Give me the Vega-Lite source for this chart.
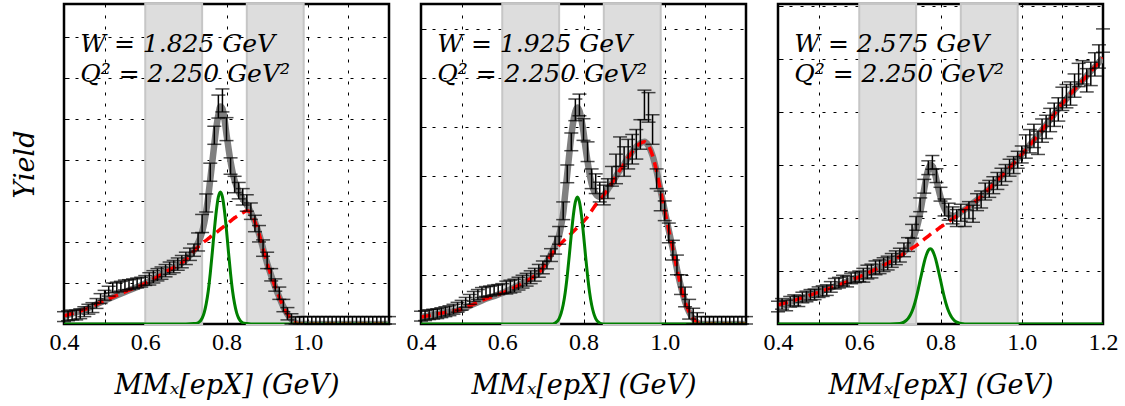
{
"$schema": "https://vega.github.io/schema/vega-lite/v6.json",
"padding": {"left": 10, "top": 1, "right": 5, "bottom": 4},
"bounds": "flush",
"spacing": 32,
"config": {
  "view": {"stroke": "black", "strokeWidth": 2.5},
  "axis": {"grid": true, "gridColor": "black", "gridDash": [3, 8], "gridWidth": 1, "domain": false, "tickColor": "black", "tickSize": -5, "tickWidth": 1, "labelFont": "Liberation Serif", "labelFontSize": 24, "labelColor": "black", "titleFont": "DejaVu Serif", "titleFontStyle": "italic", "titleFontWeight": "normal", "titleFontSize": 27, "titleColor": "black", "zindex": 1}
},
"datasets": {
  "bands": [{"x": 0.6, "x2": 0.74}, {"x": 0.85, "x2": 0.99}],
  "labels": [
    {"p": 1, "x": 0.44, "y": 6.63, "t": "W = 1.825 GeV"},
    {"p": 1, "x": 0.44, "y": 5.9, "t": "Q² = 2.250 GeV²"},
    {"p": 2, "x": 0.44, "y": 5.53, "t": "W = 1.925 GeV"},
    {"p": 2, "x": 0.44, "y": 4.92, "t": "Q² = 2.250 GeV²"},
    {"p": 3, "x": 0.44, "y": 5.13, "t": "W = 2.575 GeV"},
    {"p": 3, "x": 0.44, "y": 4.57, "t": "Q² = 2.250 GeV²"}
  ],
  "curves": [
    {"p":1,"x":0.40,"t":0.20,"b":0.20,"s":0},
    {"p":1,"x":0.45,"t":0.35,"b":0.35,"s":0},
    {"p":1,"x":0.50,"t":0.57,"b":0.57,"s":0},
    {"p":1,"x":0.55,"t":0.78,"b":0.78,"s":0},
    {"p":1,"x":0.60,"t":0.99,"b":0.99,"s":0},
    {"p":1,"x":0.65,"t":1.27,"b":1.27,"s":0},
    {"p":1,"x":0.70,"t":1.57,"b":1.57,"s":0},
    {"p":1,"x":0.72,"t":1.80,"b":1.78,"s":0.01},
    {"p":1,"x":0.73,"t":1.98,"b":1.88,"s":0.03},
    {"p":1,"x":0.74,"t":2.24,"b":1.97,"s":0.14},
    {"p":1,"x":0.745,"t":2.45,"b":2.01,"s":0.27},
    {"p":1,"x":0.75,"t":2.75,"b":2.04,"s":0.49},
    {"p":1,"x":0.755,"t":3.10,"b":2.08,"s":0.80},
    {"p":1,"x":0.76,"t":3.52,"b":2.12,"s":1.23},
    {"p":1,"x":0.765,"t":3.95,"b":2.16,"s":1.74},
    {"p":1,"x":0.77,"t":4.38,"b":2.19,"s":2.28},
    {"p":1,"x":0.775,"t":4.80,"b":2.23,"s":2.76},
    {"p":1,"x":0.78,"t":5.10,"b":2.27,"s":3.10},
    {"p":1,"x":0.785,"t":5.30,"b":2.31,"s":3.22},
    {"p":1,"x":0.79,"t":5.25,"b":2.35,"s":3.10},
    {"p":1,"x":0.795,"t":5.00,"b":2.39,"s":2.76},
    {"p":1,"x":0.80,"t":4.62,"b":2.43,"s":2.28},
    {"p":1,"x":0.805,"t":4.28,"b":2.47,"s":1.74},
    {"p":1,"x":0.81,"t":3.96,"b":2.51,"s":1.23},
    {"p":1,"x":0.815,"t":3.70,"b":2.55,"s":0.80},
    {"p":1,"x":0.82,"t":3.50,"b":2.59,"s":0.49},
    {"p":1,"x":0.825,"t":3.35,"b":2.62,"s":0.27},
    {"p":1,"x":0.83,"t":3.22,"b":2.65,"s":0.14},
    {"p":1,"x":0.84,"t":3.05,"b":2.71,"s":0.03},
    {"p":1,"x":0.85,"t":2.90,"b":2.76,"s":0.01},
    {"p":1,"x":0.86,"t":2.72,"b":2.72,"s":0},
    {"p":1,"x":0.87,"t":2.49,"b":2.49,"s":0},
    {"p":1,"x":0.88,"t":2.20,"b":2.20,"s":0},
    {"p":1,"x":0.89,"t":1.84,"b":1.84,"s":0},
    {"p":1,"x":0.90,"t":1.48,"b":1.48,"s":0},
    {"p":1,"x":0.91,"t":1.18,"b":1.18,"s":0},
    {"p":1,"x":0.92,"t":0.90,"b":0.90,"s":0},
    {"p":1,"x":0.93,"t":0.65,"b":0.65,"s":0},
    {"p":1,"x":0.94,"t":0.42,"b":0.42,"s":0},
    {"p":1,"x":0.95,"t":0.24,"b":0.24,"s":0},
    {"p":1,"x":0.96,"t":0.11,"b":0.11,"s":0},
    {"p":1,"x":0.97,"t":0.03,"b":0.03,"s":0},
    {"p":1,"x":0.98,"t":0,"b":0,"s":0},
    {"p":1,"x":1.20,"t":0,"b":0,"s":0},

    {"p":2,"x":0.40,"t":0.14,"b":0.14,"s":0},
    {"p":2,"x":0.45,"t":0.22,"b":0.22,"s":0},
    {"p":2,"x":0.50,"t":0.30,"b":0.30,"s":0},
    {"p":2,"x":0.55,"t":0.48,"b":0.48,"s":0},
    {"p":2,"x":0.60,"t":0.63,"b":0.63,"s":0},
    {"p":2,"x":0.65,"t":0.83,"b":0.83,"s":0},
    {"p":2,"x":0.70,"t":1.14,"b":1.14,"s":0},
    {"p":2,"x":0.72,"t":1.42,"b":1.40,"s":0},
    {"p":2,"x":0.73,"t":1.60,"b":1.50,"s":0.02},
    {"p":2,"x":0.74,"t":1.80,"b":1.60,"s":0.11},
    {"p":2,"x":0.745,"t":2.00,"b":1.64,"s":0.22},
    {"p":2,"x":0.75,"t":2.25,"b":1.68,"s":0.39},
    {"p":2,"x":0.755,"t":2.65,"b":1.72,"s":0.64},
    {"p":2,"x":0.76,"t":3.05,"b":1.76,"s":0.98},
    {"p":2,"x":0.765,"t":3.45,"b":1.80,"s":1.39},
    {"p":2,"x":0.77,"t":3.82,"b":1.84,"s":1.82},
    {"p":2,"x":0.775,"t":4.12,"b":1.88,"s":2.21},
    {"p":2,"x":0.78,"t":4.32,"b":1.92,"s":2.48},
    {"p":2,"x":0.785,"t":4.40,"b":1.96,"s":2.58},
    {"p":2,"x":0.79,"t":4.33,"b":2.00,"s":2.48},
    {"p":2,"x":0.795,"t":4.15,"b":2.04,"s":2.21},
    {"p":2,"x":0.80,"t":3.90,"b":2.08,"s":1.82},
    {"p":2,"x":0.805,"t":3.58,"b":2.13,"s":1.39},
    {"p":2,"x":0.81,"t":3.30,"b":2.18,"s":0.98},
    {"p":2,"x":0.815,"t":3.05,"b":2.24,"s":0.64},
    {"p":2,"x":0.82,"t":2.85,"b":2.30,"s":0.39},
    {"p":2,"x":0.825,"t":2.72,"b":2.36,"s":0.22},
    {"p":2,"x":0.83,"t":2.64,"b":2.42,"s":0.11},
    {"p":2,"x":0.84,"t":2.58,"b":2.52,"s":0.02},
    {"p":2,"x":0.85,"t":2.62,"b":2.62,"s":0},
    {"p":2,"x":0.86,"t":2.74,"b":2.74,"s":0},
    {"p":2,"x":0.87,"t":2.86,"b":2.86,"s":0},
    {"p":2,"x":0.88,"t":3.00,"b":3.00,"s":0},
    {"p":2,"x":0.89,"t":3.13,"b":3.13,"s":0},
    {"p":2,"x":0.90,"t":3.25,"b":3.25,"s":0},
    {"p":2,"x":0.91,"t":3.38,"b":3.38,"s":0},
    {"p":2,"x":0.92,"t":3.50,"b":3.50,"s":0},
    {"p":2,"x":0.93,"t":3.60,"b":3.60,"s":0},
    {"p":2,"x":0.94,"t":3.67,"b":3.67,"s":0},
    {"p":2,"x":0.95,"t":3.70,"b":3.70,"s":0},
    {"p":2,"x":0.96,"t":3.62,"b":3.62,"s":0},
    {"p":2,"x":0.97,"t":3.42,"b":3.42,"s":0},
    {"p":2,"x":0.98,"t":3.10,"b":3.10,"s":0},
    {"p":2,"x":0.99,"t":2.70,"b":2.70,"s":0},
    {"p":2,"x":1.00,"t":2.30,"b":2.30,"s":0},
    {"p":2,"x":1.01,"t":1.90,"b":1.90,"s":0},
    {"p":2,"x":1.02,"t":1.52,"b":1.52,"s":0},
    {"p":2,"x":1.03,"t":1.12,"b":1.12,"s":0},
    {"p":2,"x":1.04,"t":0.75,"b":0.75,"s":0},
    {"p":2,"x":1.05,"t":0.45,"b":0.45,"s":0},
    {"p":2,"x":1.06,"t":0.24,"b":0.24,"s":0},
    {"p":2,"x":1.07,"t":0.11,"b":0.11,"s":0},
    {"p":2,"x":1.08,"t":0.03,"b":0.03,"s":0},
    {"p":2,"x":1.09,"t":0,"b":0,"s":0},
    {"p":2,"x":1.20,"t":0,"b":0,"s":0},

    {"p":3,"x":0.40,"t":0.36,"b":0.36,"s":0},
    {"p":3,"x":0.45,"t":0.47,"b":0.47,"s":0},
    {"p":3,"x":0.50,"t":0.60,"b":0.60,"s":0},
    {"p":3,"x":0.55,"t":0.74,"b":0.74,"s":0},
    {"p":3,"x":0.60,"t":0.89,"b":0.89,"s":0},
    {"p":3,"x":0.65,"t":1.07,"b":1.07,"s":0},
    {"p":3,"x":0.70,"t":1.30,"b":1.28,"s":0.01},
    {"p":3,"x":0.71,"t":1.36,"b":1.33,"s":0.035},
    {"p":3,"x":0.72,"t":1.44,"b":1.38,"s":0.10},
    {"p":3,"x":0.725,"t":1.50,"b":1.405,"s":0.16},
    {"p":3,"x":0.73,"t":1.58,"b":1.43,"s":0.24},
    {"p":3,"x":0.735,"t":1.67,"b":1.455,"s":0.35},
    {"p":3,"x":0.74,"t":1.78,"b":1.48,"s":0.49},
    {"p":3,"x":0.745,"t":1.92,"b":1.51,"s":0.65},
    {"p":3,"x":0.75,"t":2.10,"b":1.54,"s":0.83},
    {"p":3,"x":0.755,"t":2.32,"b":1.57,"s":1.00},
    {"p":3,"x":0.76,"t":2.55,"b":1.60,"s":1.17},
    {"p":3,"x":0.765,"t":2.76,"b":1.63,"s":1.30},
    {"p":3,"x":0.77,"t":2.92,"b":1.66,"s":1.39},
    {"p":3,"x":0.775,"t":3.00,"b":1.69,"s":1.42},
    {"p":3,"x":0.78,"t":2.98,"b":1.72,"s":1.39},
    {"p":3,"x":0.785,"t":2.88,"b":1.745,"s":1.30},
    {"p":3,"x":0.79,"t":2.72,"b":1.77,"s":1.17},
    {"p":3,"x":0.795,"t":2.55,"b":1.80,"s":1.00},
    {"p":3,"x":0.80,"t":2.40,"b":1.83,"s":0.83},
    {"p":3,"x":0.805,"t":2.27,"b":1.855,"s":0.65},
    {"p":3,"x":0.81,"t":2.18,"b":1.88,"s":0.49},
    {"p":3,"x":0.815,"t":2.11,"b":1.905,"s":0.35},
    {"p":3,"x":0.82,"t":2.07,"b":1.93,"s":0.24},
    {"p":3,"x":0.825,"t":2.05,"b":1.96,"s":0.16},
    {"p":3,"x":0.83,"t":2.04,"b":1.99,"s":0.10},
    {"p":3,"x":0.835,"t":2.04,"b":2.015,"s":0.06},
    {"p":3,"x":0.84,"t":2.06,"b":2.04,"s":0.035},
    {"p":3,"x":0.845,"t":2.08,"b":2.07,"s":0.02},
    {"p":3,"x":0.85,"t":2.11,"b":2.10,"s":0.01},
    {"p":3,"x":0.86,"t":2.16,"b":2.16,"s":0},
    {"p":3,"x":0.87,"t":2.22,"b":2.22,"s":0},
    {"p":3,"x":0.88,"t":2.28,"b":2.28,"s":0},
    {"p":3,"x":0.89,"t":2.34,"b":2.34,"s":0},
    {"p":3,"x":0.90,"t":2.41,"b":2.41,"s":0},
    {"p":3,"x":0.95,"t":2.79,"b":2.79,"s":0},
    {"p":3,"x":1.00,"t":3.20,"b":3.20,"s":0},
    {"p":3,"x":1.05,"t":3.66,"b":3.66,"s":0},
    {"p":3,"x":1.10,"t":4.16,"b":4.16,"s":0},
    {"p":3,"x":1.15,"t":4.60,"b":4.60,"s":0},
    {"p":3,"x":1.20,"t":5.02,"b":5.02,"s":0}
  ],
  "pts": [
    {"p":1,"x":0.40,"y":0.18,"e":0.12},{"p":1,"x":0.41,"y":0.20,"e":0.12},{"p":1,"x":0.42,"y":0.22,"e":0.12},{"p":1,"x":0.43,"y":0.22,"e":0.12},
    {"p":1,"x":0.44,"y":0.25,"e":0.12},{"p":1,"x":0.45,"y":0.30,"e":0.12},{"p":1,"x":0.46,"y":0.36,"e":0.12},{"p":1,"x":0.47,"y":0.40,"e":0.12},
    {"p":1,"x":0.48,"y":0.50,"e":0.12},{"p":1,"x":0.49,"y":0.62,"e":0.12},{"p":1,"x":0.50,"y":0.70,"e":0.12},{"p":1,"x":0.51,"y":0.80,"e":0.12},
    {"p":1,"x":0.52,"y":0.88,"e":0.12},{"p":1,"x":0.53,"y":0.90,"e":0.12},{"p":1,"x":0.54,"y":0.92,"e":0.12},{"p":1,"x":0.55,"y":0.95,"e":0.12},
    {"p":1,"x":0.56,"y":0.96,"e":0.12},{"p":1,"x":0.57,"y":0.98,"e":0.12},{"p":1,"x":0.58,"y":1.00,"e":0.12},{"p":1,"x":0.59,"y":1.02,"e":0.12},
    {"p":1,"x":0.60,"y":1.06,"e":0.12},{"p":1,"x":0.61,"y":1.10,"e":0.15},{"p":1,"x":0.62,"y":1.15,"e":0.15},{"p":1,"x":0.63,"y":1.20,"e":0.15},
    {"p":1,"x":0.64,"y":1.24,"e":0.15},{"p":1,"x":0.65,"y":1.30,"e":0.15},{"p":1,"x":0.66,"y":1.36,"e":0.15},{"p":1,"x":0.67,"y":1.40,"e":0.15},
    {"p":1,"x":0.68,"y":1.46,"e":0.15},{"p":1,"x":0.69,"y":1.52,"e":0.15},{"p":1,"x":0.70,"y":1.60,"e":0.15},{"p":1,"x":0.71,"y":1.70,"e":0.15},
    {"p":1,"x":0.72,"y":1.80,"e":0.15},{"p":1,"x":0.73,"y":2.00,"e":0.22},{"p":1,"x":0.74,"y":2.45,"e":0.22},{"p":1,"x":0.75,"y":2.95,"e":0.22},
    {"p":1,"x":0.76,"y":3.70,"e":0.22},{"p":1,"x":0.77,"y":4.60,"e":0.22},{"p":1,"x":0.78,"y":5.30,"e":0.28},{"p":1,"x":0.79,"y":5.45,"e":0.28},
    {"p":1,"x":0.80,"y":4.75,"e":0.28},{"p":1,"x":0.81,"y":3.85,"e":0.2},{"p":1,"x":0.82,"y":3.40,"e":0.2},{"p":1,"x":0.83,"y":3.25,"e":0.2},
    {"p":1,"x":0.84,"y":3.10,"e":0.2},{"p":1,"x":0.85,"y":2.95,"e":0.2},{"p":1,"x":0.86,"y":2.75,"e":0.2},{"p":1,"x":0.87,"y":2.45,"e":0.2},
    {"p":1,"x":0.88,"y":2.20,"e":0.2},{"p":1,"x":0.89,"y":1.85,"e":0.2},{"p":1,"x":0.90,"y":1.55,"e":0.2},{"p":1,"x":0.91,"y":1.20,"e":0.15},
    {"p":1,"x":0.92,"y":0.95,"e":0.15},{"p":1,"x":0.93,"y":0.75,"e":0.15},{"p":1,"x":0.94,"y":0.45,"e":0.15},{"p":1,"x":0.95,"y":0.25,"e":0.15},
    {"p":1,"x":0.96,"y":0.10,"e":0.15},{"p":1,"x":0.97,"y":0.02,"e":0.15},{"p":1,"x":0.98,"y":0,"e":0.18},{"p":1,"x":0.99,"y":0,"e":0.18},
    {"p":1,"x":1.00,"y":0,"e":0.18},{"p":1,"x":1.01,"y":0,"e":0.18},{"p":1,"x":1.02,"y":0,"e":0.18},{"p":1,"x":1.03,"y":0,"e":0.18},
    {"p":1,"x":1.04,"y":0,"e":0.18},{"p":1,"x":1.05,"y":0,"e":0.18},{"p":1,"x":1.06,"y":0,"e":0.18},{"p":1,"x":1.07,"y":0,"e":0.18},
    {"p":1,"x":1.08,"y":0,"e":0.18},{"p":1,"x":1.09,"y":0,"e":0.18},{"p":1,"x":1.10,"y":0,"e":0.18},{"p":1,"x":1.11,"y":0,"e":0.18},
    {"p":1,"x":1.12,"y":0,"e":0.18},{"p":1,"x":1.13,"y":0,"e":0.18},{"p":1,"x":1.14,"y":0,"e":0.18},{"p":1,"x":1.15,"y":0,"e":0.18},
    {"p":1,"x":1.16,"y":0,"e":0.18},{"p":1,"x":1.17,"y":0,"e":0.18},{"p":1,"x":1.18,"y":0,"e":0.18},{"p":1,"x":1.19,"y":0,"e":0.18},
    {"p":1,"x":1.20,"y":0,"e":0.18},

    {"p":2,"x":0.40,"y":0.16,"e":0.1},{"p":2,"x":0.41,"y":0.17,"e":0.1},{"p":2,"x":0.42,"y":0.19,"e":0.1},{"p":2,"x":0.43,"y":0.20,"e":0.1},
    {"p":2,"x":0.44,"y":0.21,"e":0.1},{"p":2,"x":0.45,"y":0.23,"e":0.1},{"p":2,"x":0.46,"y":0.25,"e":0.1},{"p":2,"x":0.47,"y":0.27,"e":0.1},
    {"p":2,"x":0.48,"y":0.30,"e":0.1},{"p":2,"x":0.49,"y":0.34,"e":0.1},{"p":2,"x":0.50,"y":0.38,"e":0.1},{"p":2,"x":0.51,"y":0.44,"e":0.1},
    {"p":2,"x":0.52,"y":0.50,"e":0.1},{"p":2,"x":0.53,"y":0.56,"e":0.1},{"p":2,"x":0.54,"y":0.60,"e":0.1},{"p":2,"x":0.55,"y":0.64,"e":0.1},
    {"p":2,"x":0.56,"y":0.66,"e":0.1},{"p":2,"x":0.57,"y":0.67,"e":0.1},{"p":2,"x":0.58,"y":0.69,"e":0.1},{"p":2,"x":0.59,"y":0.70,"e":0.1},
    {"p":2,"x":0.60,"y":0.72,"e":0.1},{"p":2,"x":0.61,"y":0.74,"e":0.13},{"p":2,"x":0.62,"y":0.76,"e":0.13},{"p":2,"x":0.63,"y":0.78,"e":0.13},
    {"p":2,"x":0.64,"y":0.82,"e":0.13},{"p":2,"x":0.65,"y":0.86,"e":0.13},{"p":2,"x":0.66,"y":0.90,"e":0.13},{"p":2,"x":0.67,"y":0.95,"e":0.13},
    {"p":2,"x":0.68,"y":1.00,"e":0.13},{"p":2,"x":0.69,"y":1.08,"e":0.13},{"p":2,"x":0.70,"y":1.15,"e":0.13},{"p":2,"x":0.71,"y":1.25,"e":0.13},
    {"p":2,"x":0.72,"y":1.40,"e":0.13},{"p":2,"x":0.73,"y":1.60,"e":0.18},{"p":2,"x":0.74,"y":1.80,"e":0.18},{"p":2,"x":0.75,"y":2.30,"e":0.18},
    {"p":2,"x":0.76,"y":3.05,"e":0.18},{"p":2,"x":0.77,"y":3.70,"e":0.18},{"p":2,"x":0.78,"y":4.35,"e":0.22},{"p":2,"x":0.79,"y":4.45,"e":0.22},
    {"p":2,"x":0.80,"y":3.95,"e":0.22},{"p":2,"x":0.81,"y":3.50,"e":0.2},{"p":2,"x":0.82,"y":2.95,"e":0.2},{"p":2,"x":0.83,"y":2.85,"e":0.2},
    {"p":2,"x":0.84,"y":2.68,"e":0.2},{"p":2,"x":0.85,"y":2.62,"e":0.2},{"p":2,"x":0.86,"y":2.75,"e":0.2},{"p":2,"x":0.87,"y":3.00,"e":0.2},
    {"p":2,"x":0.88,"y":3.15,"e":0.3},{"p":2,"x":0.89,"y":3.50,"e":0.3},{"p":2,"x":0.90,"y":3.30,"e":0.3},{"p":2,"x":0.91,"y":3.45,"e":0.3},
    {"p":2,"x":0.92,"y":3.55,"e":0.3},{"p":2,"x":0.93,"y":3.65,"e":0.3},{"p":2,"x":0.94,"y":3.85,"e":0.3},{"p":2,"x":0.95,"y":4.45,"e":0.3},
    {"p":2,"x":0.96,"y":4.40,"e":0.3},{"p":2,"x":0.97,"y":3.95,"e":0.3},{"p":2,"x":0.98,"y":2.95,"e":0.2},{"p":2,"x":0.99,"y":2.50,"e":0.2},
    {"p":2,"x":1.00,"y":2.30,"e":0.2},{"p":2,"x":1.01,"y":1.85,"e":0.2},{"p":2,"x":1.02,"y":1.50,"e":0.2},{"p":2,"x":1.03,"y":1.20,"e":0.2},
    {"p":2,"x":1.04,"y":0.80,"e":0.2},{"p":2,"x":1.05,"y":0.55,"e":0.2},{"p":2,"x":1.06,"y":0.30,"e":0.2},{"p":2,"x":1.07,"y":0.12,"e":0.2},
    {"p":2,"x":1.08,"y":0.03,"e":0.2},{"p":2,"x":1.09,"y":0,"e":0.15},{"p":2,"x":1.10,"y":0,"e":0.15},{"p":2,"x":1.11,"y":0,"e":0.15},
    {"p":2,"x":1.12,"y":0,"e":0.15},{"p":2,"x":1.13,"y":0,"e":0.15},{"p":2,"x":1.14,"y":0,"e":0.15},{"p":2,"x":1.15,"y":0,"e":0.15},
    {"p":2,"x":1.16,"y":0,"e":0.15},{"p":2,"x":1.17,"y":0,"e":0.15},{"p":2,"x":1.18,"y":0,"e":0.15},{"p":2,"x":1.19,"y":0,"e":0.15},
    {"p":2,"x":1.20,"y":0,"e":0.15},

    {"p":3,"x":0.40,"y":0.33,"e":0.1},{"p":3,"x":0.41,"y":0.38,"e":0.1},{"p":3,"x":0.42,"y":0.35,"e":0.1},{"p":3,"x":0.43,"y":0.42,"e":0.1},
    {"p":3,"x":0.44,"y":0.45,"e":0.1},{"p":3,"x":0.45,"y":0.43,"e":0.1},{"p":3,"x":0.46,"y":0.50,"e":0.1},{"p":3,"x":0.47,"y":0.52,"e":0.1},
    {"p":3,"x":0.48,"y":0.55,"e":0.1},{"p":3,"x":0.49,"y":0.56,"e":0.1},{"p":3,"x":0.50,"y":0.60,"e":0.1},{"p":3,"x":0.51,"y":0.62,"e":0.1},
    {"p":3,"x":0.52,"y":0.64,"e":0.1},{"p":3,"x":0.53,"y":0.70,"e":0.1},{"p":3,"x":0.54,"y":0.76,"e":0.1},{"p":3,"x":0.55,"y":0.78,"e":0.1},
    {"p":3,"x":0.56,"y":0.82,"e":0.1},{"p":3,"x":0.57,"y":0.80,"e":0.1},{"p":3,"x":0.58,"y":0.86,"e":0.1},{"p":3,"x":0.59,"y":0.88,"e":0.1},
    {"p":3,"x":0.60,"y":0.90,"e":0.1},{"p":3,"x":0.61,"y":0.92,"e":0.13},{"p":3,"x":0.62,"y":0.98,"e":0.13},{"p":3,"x":0.63,"y":1.00,"e":0.13},
    {"p":3,"x":0.64,"y":1.06,"e":0.13},{"p":3,"x":0.65,"y":1.08,"e":0.13},{"p":3,"x":0.66,"y":1.12,"e":0.13},{"p":3,"x":0.67,"y":1.15,"e":0.13},
    {"p":3,"x":0.68,"y":1.20,"e":0.13},{"p":3,"x":0.69,"y":1.25,"e":0.13},{"p":3,"x":0.70,"y":1.30,"e":0.13},{"p":3,"x":0.71,"y":1.40,"e":0.13},
    {"p":3,"x":0.72,"y":1.50,"e":0.13},{"p":3,"x":0.73,"y":1.75,"e":0.13},{"p":3,"x":0.74,"y":1.90,"e":0.13},{"p":3,"x":0.75,"y":2.25,"e":0.13},
    {"p":3,"x":0.76,"y":2.60,"e":0.13},{"p":3,"x":0.77,"y":2.95,"e":0.13},{"p":3,"x":0.78,"y":3.05,"e":0.13},{"p":3,"x":0.79,"y":2.80,"e":0.13},
    {"p":3,"x":0.80,"y":2.45,"e":0.13},{"p":3,"x":0.81,"y":2.20,"e":0.16},{"p":3,"x":0.82,"y":2.12,"e":0.16},{"p":3,"x":0.83,"y":2.05,"e":0.16},
    {"p":3,"x":0.84,"y":2.00,"e":0.16},{"p":3,"x":0.85,"y":2.10,"e":0.16},{"p":3,"x":0.86,"y":2.00,"e":0.16},{"p":3,"x":0.87,"y":2.15,"e":0.16},
    {"p":3,"x":0.88,"y":2.08,"e":0.16},{"p":3,"x":0.89,"y":2.30,"e":0.16},{"p":3,"x":0.90,"y":2.35,"e":0.16},{"p":3,"x":0.91,"y":2.50,"e":0.16},
    {"p":3,"x":0.92,"y":2.55,"e":0.16},{"p":3,"x":0.93,"y":2.62,"e":0.16},{"p":3,"x":0.94,"y":2.70,"e":0.16},{"p":3,"x":0.95,"y":2.78,"e":0.16},
    {"p":3,"x":0.96,"y":2.85,"e":0.16},{"p":3,"x":0.97,"y":2.95,"e":0.16},{"p":3,"x":0.98,"y":3.00,"e":0.16},{"p":3,"x":0.99,"y":3.10,"e":0.16},
    {"p":3,"x":1.00,"y":3.20,"e":0.16},{"p":3,"x":1.01,"y":3.35,"e":0.22},{"p":3,"x":1.02,"y":3.45,"e":0.22},{"p":3,"x":1.03,"y":3.55,"e":0.22},
    {"p":3,"x":1.04,"y":3.42,"e":0.22},{"p":3,"x":1.05,"y":3.65,"e":0.22},{"p":3,"x":1.06,"y":3.72,"e":0.22},{"p":3,"x":1.07,"y":3.85,"e":0.22},
    {"p":3,"x":1.08,"y":3.95,"e":0.22},{"p":3,"x":1.09,"y":4.05,"e":0.22},{"p":3,"x":1.10,"y":4.25,"e":0.22},{"p":3,"x":1.11,"y":4.30,"e":0.22},
    {"p":3,"x":1.12,"y":4.35,"e":0.22},{"p":3,"x":1.13,"y":4.50,"e":0.22},{"p":3,"x":1.14,"y":4.70,"e":0.22},{"p":3,"x":1.15,"y":4.75,"e":0.22},
    {"p":3,"x":1.16,"y":4.60,"e":0.22},{"p":3,"x":1.17,"y":4.72,"e":0.22},{"p":3,"x":1.18,"y":4.90,"e":0.22},{"p":3,"x":1.19,"y":5.05,"e":0.22},
    {"p":3,"x":1.20,"y":5.35,"e":0.22}
  ]
},
"hconcat": [
  {
    "width": 325, "height": 320,
    "layer": [
      {"data": {"name": "bands"},
       "mark": {"type": "rect", "fill": "#dddddd", "stroke": "#c6c6c6", "strokeWidth": 2},
       "encoding": {
         "x": {"field": "x", "type": "quantitative", "scale": {"domain": [0.4, 1.2], "nice": false, "zero": false}, "title": "MMₓ[epX] (GeV)",
               "axis": {"values": [0.4, 0.5, 0.6, 0.7, 0.8, 0.9, 1.0, 1.1, 1.2], "labelExpr": "datum.value < 1.05 && round(datum.value*10) % 2 == 0 ? format(datum.value, '.1f') : ''", "labelFlush": false, "labelOverlap": false, "labelPadding": 11, "titlePadding": 18}},
         "x2": {"field": "x2"}
       }},
      {"data": {"name": "curves"},
       "transform": [{"filter": "datum.p == 1"}, {"fold": ["t", "b", "s"], "as": ["c", "y"]}],
       "encoding": {
         "x": {"field": "x", "type": "quantitative", "scale": {"domain": [0.4, 1.2], "nice": false, "zero": false}, "title": "MMₓ[epX] (GeV)",
               "axis": {"values": [0.4, 0.5, 0.6, 0.7, 0.8, 0.9, 1.0, 1.1, 1.2], "labelExpr": "datum.value < 1.05 && round(datum.value*10) % 2 == 0 ? format(datum.value, '.1f') : ''", "labelFlush": false, "labelOverlap": false, "labelPadding": 11, "titlePadding": 18}},
         "y": {"field": "y", "type": "quantitative", "scale": {"domain": [0, 7.8], "nice": false, "clamp": true}, "title": "Yield",
               "axis": {"values": [0, 1, 2, 3, 4, 5, 6, 7], "labels": false, "titlePadding": 24}}
       },
       "layer": [
         {"transform": [{"filter": "datum.c == 't'"}], "mark": {"type": "line", "color": "#808080", "strokeWidth": 6.5, "interpolate": "monotone", "clip": true}, "encoding": {}},
         {"transform": [{"filter": "datum.c == 'b'"}], "mark": {"type": "line", "color": "#ff0000", "strokeWidth": 3.5, "strokeDash": [10, 6], "interpolate": "monotone", "clip": true}, "encoding": {}},
         {"transform": [{"filter": "datum.c == 's'"}], "mark": {"type": "line", "color": "#008000", "strokeWidth": 3, "interpolate": "monotone", "clip": true}, "encoding": {}}
       ]},
      {"data": {"name": "pts"},
       "transform": [{"filter": "datum.p == 1"}],
       "mark": {"type": "errorbar", "color": "black", "thickness": 1.5, "ticks": {"size": 14}},
       "encoding": {
         "x": {"field": "x", "type": "quantitative", "scale": {"domain": [0.4, 1.2], "nice": false, "zero": false}, "title": "MMₓ[epX] (GeV)",
               "axis": {"values": [0.4, 0.5, 0.6, 0.7, 0.8, 0.9, 1.0, 1.1, 1.2], "labelExpr": "datum.value < 1.05 && round(datum.value*10) % 2 == 0 ? format(datum.value, '.1f') : ''", "labelFlush": false, "labelOverlap": false, "labelPadding": 11, "titlePadding": 18}},
         "y": {"field": "y", "type": "quantitative", "scale": {"domain": [0, 7.8], "nice": false, "clamp": true}, "title": "Yield",
               "axis": {"values": [0, 1, 2, 3, 4, 5, 6, 7], "labels": false, "titlePadding": 24}},
         "yError": {"field": "e"}
       }},
      {"data": {"name": "labels"},
       "transform": [{"filter": "datum.p == 1"}],
       "mark": {"type": "text", "align": "left", "baseline": "alphabetic", "font": "DejaVu Serif", "fontStyle": "italic", "fontSize": 25, "color": "black"},
       "encoding": {
         "x": {"field": "x", "type": "quantitative", "scale": {"domain": [0.4, 1.2], "nice": false, "zero": false}, "title": "MMₓ[epX] (GeV)",
               "axis": {"values": [0.4, 0.5, 0.6, 0.7, 0.8, 0.9, 1.0, 1.1, 1.2], "labelExpr": "datum.value < 1.05 && round(datum.value*10) % 2 == 0 ? format(datum.value, '.1f') : ''", "labelFlush": false, "labelOverlap": false, "labelPadding": 11, "titlePadding": 18}},
         "y": {"field": "y", "type": "quantitative", "scale": {"domain": [0, 7.8], "nice": false, "clamp": true}, "title": "Yield",
               "axis": {"values": [0, 1, 2, 3, 4, 5, 6, 7], "labels": false, "titlePadding": 24}},
         "text": {"field": "t"}
       }}
    ]
  },
  {
    "width": 325, "height": 320,
    "layer": [
      {"data": {"name": "bands"},
       "mark": {"type": "rect", "fill": "#dddddd", "stroke": "#c6c6c6", "strokeWidth": 2},
       "encoding": {
         "x": {"field": "x", "type": "quantitative", "scale": {"domain": [0.4, 1.2], "nice": false, "zero": false}, "title": "MMₓ[epX] (GeV)",
               "axis": {"values": [0.4, 0.5, 0.6, 0.7, 0.8, 0.9, 1.0, 1.1, 1.2], "labelExpr": "datum.value < 1.05 && round(datum.value*10) % 2 == 0 ? format(datum.value, '.1f') : ''", "labelFlush": false, "labelOverlap": false, "labelPadding": 11, "titlePadding": 18}},
         "x2": {"field": "x2"}
       }},
      {"data": {"name": "curves"},
       "transform": [{"filter": "datum.p == 2"}, {"fold": ["t", "b", "s"], "as": ["c", "y"]}],
       "encoding": {
         "x": {"field": "x", "type": "quantitative", "scale": {"domain": [0.4, 1.2], "nice": false, "zero": false}, "title": "MMₓ[epX] (GeV)",
               "axis": {"values": [0.4, 0.5, 0.6, 0.7, 0.8, 0.9, 1.0, 1.1, 1.2], "labelExpr": "datum.value < 1.05 && round(datum.value*10) % 2 == 0 ? format(datum.value, '.1f') : ''", "labelFlush": false, "labelOverlap": false, "labelPadding": 11, "titlePadding": 18}},
         "y": {"field": "y", "type": "quantitative", "scale": {"domain": [0, 6.5], "nice": false, "clamp": true}, "title": null,
               "axis": {"values": [0, 1, 2, 3, 4, 5, 6], "labels": false}}
       },
       "layer": [
         {"transform": [{"filter": "datum.c == 't'"}], "mark": {"type": "line", "color": "#808080", "strokeWidth": 6.5, "interpolate": "monotone", "clip": true}, "encoding": {}},
         {"transform": [{"filter": "datum.c == 'b'"}], "mark": {"type": "line", "color": "#ff0000", "strokeWidth": 3.5, "strokeDash": [10, 6], "interpolate": "monotone", "clip": true}, "encoding": {}},
         {"transform": [{"filter": "datum.c == 's'"}], "mark": {"type": "line", "color": "#008000", "strokeWidth": 3, "interpolate": "monotone", "clip": true}, "encoding": {}}
       ]},
      {"data": {"name": "pts"},
       "transform": [{"filter": "datum.p == 2"}],
       "mark": {"type": "errorbar", "color": "black", "thickness": 1.5, "ticks": {"size": 14}},
       "encoding": {
         "x": {"field": "x", "type": "quantitative", "scale": {"domain": [0.4, 1.2], "nice": false, "zero": false}, "title": "MMₓ[epX] (GeV)",
               "axis": {"values": [0.4, 0.5, 0.6, 0.7, 0.8, 0.9, 1.0, 1.1, 1.2], "labelExpr": "datum.value < 1.05 && round(datum.value*10) % 2 == 0 ? format(datum.value, '.1f') : ''", "labelFlush": false, "labelOverlap": false, "labelPadding": 11, "titlePadding": 18}},
         "y": {"field": "y", "type": "quantitative", "scale": {"domain": [0, 6.5], "nice": false, "clamp": true}, "title": null,
               "axis": {"values": [0, 1, 2, 3, 4, 5, 6], "labels": false}},
         "yError": {"field": "e"}
       }},
      {"data": {"name": "labels"},
       "transform": [{"filter": "datum.p == 2"}],
       "mark": {"type": "text", "align": "left", "baseline": "alphabetic", "font": "DejaVu Serif", "fontStyle": "italic", "fontSize": 25, "color": "black"},
       "encoding": {
         "x": {"field": "x", "type": "quantitative", "scale": {"domain": [0.4, 1.2], "nice": false, "zero": false}, "title": "MMₓ[epX] (GeV)",
               "axis": {"values": [0.4, 0.5, 0.6, 0.7, 0.8, 0.9, 1.0, 1.1, 1.2], "labelExpr": "datum.value < 1.05 && round(datum.value*10) % 2 == 0 ? format(datum.value, '.1f') : ''", "labelFlush": false, "labelOverlap": false, "labelPadding": 11, "titlePadding": 18}},
         "y": {"field": "y", "type": "quantitative", "scale": {"domain": [0, 6.5], "nice": false, "clamp": true}, "title": null,
               "axis": {"values": [0, 1, 2, 3, 4, 5, 6], "labels": false}},
         "text": {"field": "t"}
       }}
    ]
  },
  {
    "width": 325, "height": 320,
    "layer": [
      {"data": {"name": "bands"},
       "mark": {"type": "rect", "fill": "#dddddd", "stroke": "#c6c6c6", "strokeWidth": 2},
       "encoding": {
         "x": {"field": "x", "type": "quantitative", "scale": {"domain": [0.4, 1.2], "nice": false, "zero": false}, "title": "MMₓ[epX] (GeV)",
               "axis": {"values": [0.4, 0.5, 0.6, 0.7, 0.8, 0.9, 1.0, 1.1, 1.2], "labelExpr": "round(datum.value*10) % 2 == 0 ? format(datum.value, '.1f') : ''", "labelFlush": false, "labelOverlap": false, "labelPadding": 11, "titlePadding": 18}},
         "x2": {"field": "x2"}
       }},
      {"data": {"name": "curves"},
       "transform": [{"filter": "datum.p == 3"}, {"fold": ["t", "b", "s"], "as": ["c", "y"]}],
       "encoding": {
         "x": {"field": "x", "type": "quantitative", "scale": {"domain": [0.4, 1.2], "nice": false, "zero": false}, "title": "MMₓ[epX] (GeV)",
               "axis": {"values": [0.4, 0.5, 0.6, 0.7, 0.8, 0.9, 1.0, 1.1, 1.2], "labelExpr": "round(datum.value*10) % 2 == 0 ? format(datum.value, '.1f') : ''", "labelFlush": false, "labelOverlap": false, "labelPadding": 11, "titlePadding": 18}},
         "y": {"field": "y", "type": "quantitative", "scale": {"domain": [0, 6.04], "nice": false, "clamp": true}, "title": null,
               "axis": {"values": [0, 1, 2, 3, 4, 5, 6], "labels": false}}
       },
       "layer": [
         {"transform": [{"filter": "datum.c == 't'"}], "mark": {"type": "line", "color": "#808080", "strokeWidth": 6.5, "interpolate": "monotone", "clip": true}, "encoding": {}},
         {"transform": [{"filter": "datum.c == 'b'"}], "mark": {"type": "line", "color": "#ff0000", "strokeWidth": 3.5, "strokeDash": [10, 6], "interpolate": "monotone", "clip": true}, "encoding": {}},
         {"transform": [{"filter": "datum.c == 's'"}], "mark": {"type": "line", "color": "#008000", "strokeWidth": 3, "interpolate": "monotone", "clip": true}, "encoding": {}}
       ]},
      {"data": {"name": "pts"},
       "transform": [{"filter": "datum.p == 3"}],
       "mark": {"type": "errorbar", "color": "black", "thickness": 1.5, "ticks": {"size": 14}},
       "encoding": {
         "x": {"field": "x", "type": "quantitative", "scale": {"domain": [0.4, 1.2], "nice": false, "zero": false}, "title": "MMₓ[epX] (GeV)",
               "axis": {"values": [0.4, 0.5, 0.6, 0.7, 0.8, 0.9, 1.0, 1.1, 1.2], "labelExpr": "round(datum.value*10) % 2 == 0 ? format(datum.value, '.1f') : ''", "labelFlush": false, "labelOverlap": false, "labelPadding": 11, "titlePadding": 18}},
         "y": {"field": "y", "type": "quantitative", "scale": {"domain": [0, 6.04], "nice": false, "clamp": true}, "title": null,
               "axis": {"values": [0, 1, 2, 3, 4, 5, 6], "labels": false}},
         "yError": {"field": "e"}
       }},
      {"data": {"name": "labels"},
       "transform": [{"filter": "datum.p == 3"}],
       "mark": {"type": "text", "align": "left", "baseline": "alphabetic", "font": "DejaVu Serif", "fontStyle": "italic", "fontSize": 25, "color": "black"},
       "encoding": {
         "x": {"field": "x", "type": "quantitative", "scale": {"domain": [0.4, 1.2], "nice": false, "zero": false}, "title": "MMₓ[epX] (GeV)",
               "axis": {"values": [0.4, 0.5, 0.6, 0.7, 0.8, 0.9, 1.0, 1.1, 1.2], "labelExpr": "round(datum.value*10) % 2 == 0 ? format(datum.value, '.1f') : ''", "labelFlush": false, "labelOverlap": false, "labelPadding": 11, "titlePadding": 18}},
         "y": {"field": "y", "type": "quantitative", "scale": {"domain": [0, 6.04], "nice": false, "clamp": true}, "title": null,
               "axis": {"values": [0, 1, 2, 3, 4, 5, 6], "labels": false}},
         "text": {"field": "t"}
       }}
    ]
  }
]
}
